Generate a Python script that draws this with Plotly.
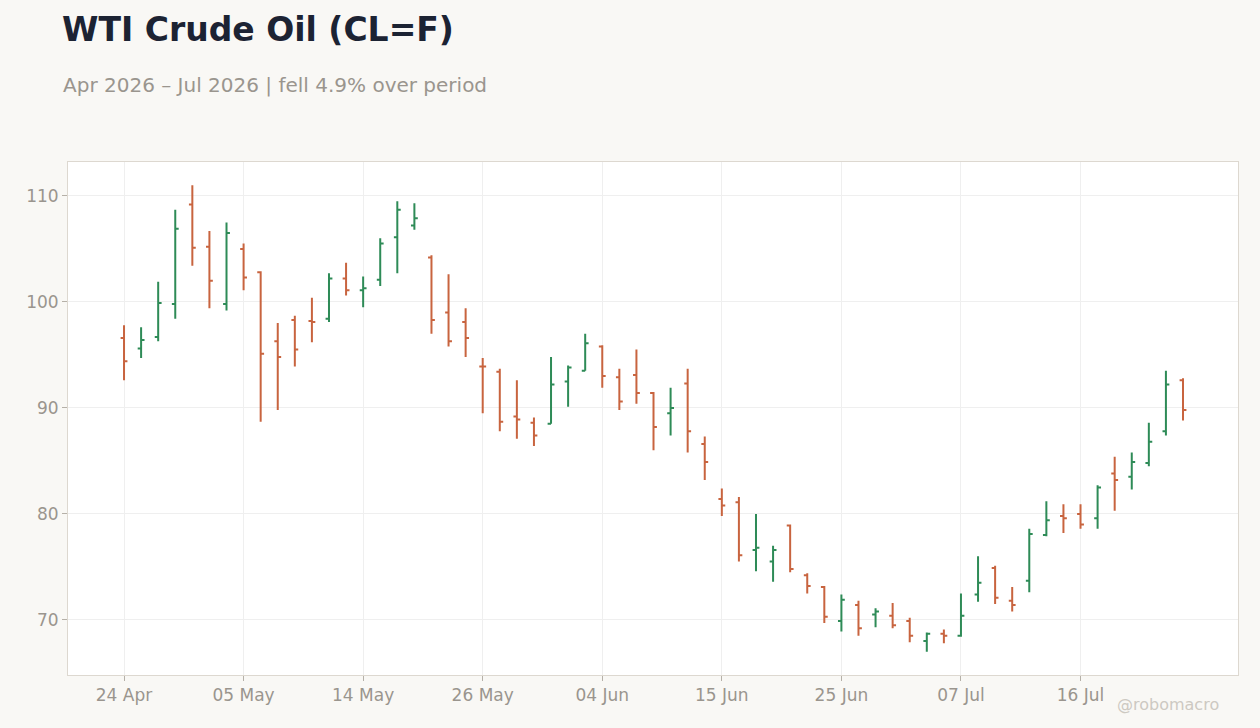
import plotly.graph_objects as go
import pandas as pd

# trading days (weekends + US market holidays skipped)
holidays = ["2026-05-25", "2026-06-19", "2026-07-03"]
days = [d for d in pd.bdate_range("2026-04-24", "2026-07-24") if d.strftime("%Y-%m-%d") not in holidays]
dates = [d.strftime("%Y-%m-%d") for d in days]

opens = [96.6, 95.6, 96.7, 99.8, 109.2, 105.2, 99.8, 105.0, 102.8, 96.3,
         98.3, 98.2, 98.4, 102.2, 101.1, 102.1, 106.1, 107.2, 104.2, 99.0,
         98.1, 93.9, 93.4, 89.2, 88.6, 88.5, 92.5, 93.5, 95.8, 92.9,
         93.1, 91.4, 89.5, 92.3, 86.6, 81.4, 81.1, 76.6, 75.5, 78.9,
         74.2, 73.1, 69.9, 71.4, 70.5, 70.4, 69.9, 68.0, 68.7, 68.5,
         72.4, 74.9, 71.8, 73.7, 78.0, 79.8, 80.0, 79.6, 83.8, 83.5,
         84.8, 87.8, 92.6]
highs = [97.8, 97.6, 101.9, 108.7, 111.0, 106.7, 107.5, 105.5, 102.9, 98.0,
         98.7, 100.4, 102.7, 103.7, 102.4, 106.0, 109.5, 109.3, 104.4, 102.6,
         99.4, 94.7, 93.7, 92.6, 89.1, 94.8, 94.0, 97.0, 95.9, 93.7,
         95.5, 91.5, 91.9, 93.7, 87.3, 82.4, 81.6, 80.0, 77.0, 79.0,
         74.4, 73.2, 72.4, 71.8, 71.1, 71.6, 70.2, 68.8, 69.1, 72.5,
         76.0, 75.1, 73.1, 78.6, 81.2, 80.9, 80.9, 82.7, 85.4, 85.8,
         88.6, 93.5, 92.8]
lows = [92.6, 94.7, 96.3, 98.4, 103.4, 99.4, 99.2, 101.1, 88.7, 89.8,
        93.9, 96.2, 98.1, 100.6, 99.5, 101.5, 102.7, 106.8, 97.0, 95.8,
        94.8, 89.5, 87.8, 87.1, 86.4, 88.5, 90.1, 93.5, 91.9, 89.8,
        90.4, 86.0, 87.4, 85.8, 83.2, 79.8, 75.5, 74.6, 73.6, 74.5,
        72.5, 69.7, 68.9, 68.5, 69.3, 69.2, 67.9, 67.0, 67.8, 68.4,
        71.7, 71.5, 70.8, 72.6, 77.9, 78.2, 78.6, 78.6, 80.3, 82.3,
        84.5, 87.4, 88.8]
closes = [94.4, 96.4, 99.9, 106.9, 105.1, 102.0, 106.5, 102.3, 95.1, 94.8,
          95.5, 98.1, 102.2, 101.1, 101.3, 105.5, 108.7, 107.9, 98.3, 96.3,
          96.6, 93.9, 88.7, 88.9, 87.4, 92.2, 93.8, 96.1, 93.0, 90.6,
          91.4, 88.2, 90.0, 87.8, 84.9, 80.8, 76.1, 76.8, 76.6, 74.8,
          73.2, 70.3, 71.9, 69.2, 70.8, 69.5, 68.5, 68.7, 68.5, 70.4,
          73.5, 72.1, 71.4, 78.1, 79.4, 79.6, 79.0, 82.5, 83.2, 84.9,
          86.8, 92.2, 89.8]

tick_vals = dates[::7]
tick_text = [d.strftime("%d %b") for d in days[::7]]

fig = go.Figure(go.Ohlc(
    x=dates, open=opens, high=highs, low=lows, close=closes,
    increasing=dict(line=dict(color="#2e8b57", width=2)),
    decreasing=dict(line=dict(color="#c8643f", width=2)),
    tickwidth=0.2,
    showlegend=False,
))

fig.update_layout(
    width=1260, height=728,
    paper_bgcolor="#f9f8f5", plot_bgcolor="#ffffff",
    margin=dict(l=68, r=22, t=162, b=53),
    font=dict(family="DejaVu Sans", color="#9a958e", size=17),
    title=dict(text="<b>WTI Crude Oil (CL=F)</b>", x=62 / 1260, xanchor="left",
               y=1 - 29 / 728, yanchor="middle",
               font=dict(size=33, color="#1c2333")),
    xaxis=dict(type="category", rangeslider=dict(visible=False),
               range=[-3.28, len(dates) - 1 + 3.22],
               tickvals=tick_vals, ticktext=tick_text,
               showgrid=True, gridcolor="#efefef",
               ticks="outside", ticklen=5, tickcolor="#b5b0a8",
               showline=True, linecolor="#ddd8d0", mirror=True),
    yaxis=dict(range=[64.8, 113.2], dtick=10,
               showgrid=True, gridcolor="#efefef", zeroline=False,
               ticks="outside", ticklen=5, tickcolor="#b5b0a8",
               showline=True, linecolor="#ddd8d0", mirror=True),
    annotations=[
        dict(text="Apr 2026 – Jul 2026 | fell 4.9% over period",
             xref="paper", yref="paper", x=(61 - 68) / 1170, y=(675 - 85) / 513,
             xanchor="left", yanchor="middle", showarrow=False,
             font=dict(size=20, color="#9a958e")),
        dict(text="@robomacro", xref="paper", yref="paper",
             x=(1221 - 68) / 1170, y=(675 - 704) / 513,
             xanchor="right", yanchor="middle", showarrow=False,
             font=dict(size=16, color="#cdc9c2")),
    ],
)

# drop the browser's default page margin so the figure sits at the window edge
fig.write_html("out.html", config={"displayModeBar": False},
               post_script="document.body.style.margin='0';")
